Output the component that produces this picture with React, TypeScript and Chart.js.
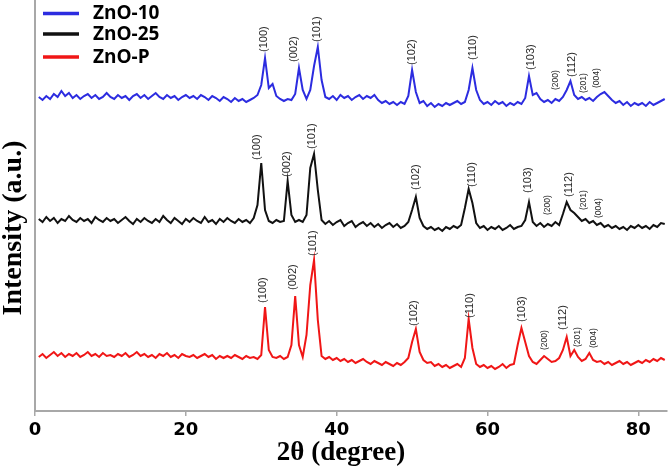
import React, { useEffect, useRef } from 'react';
import { Chart, registerables } from 'chart.js';

Chart.register(...registerables);

// 2θ sampling grid of the recorded patterns (degrees)
const TWO_THETA_START = 0.5;
const TWO_THETA_STEP = 0.5;
const X_TICKS = [0, 20, 40, 60, 80];
const X_MAX = 83.8;
const Y_MAX = 411;

// Intensities (a.u., curves offset vertically as in the figure)
const ZNO_10 = [
  314, 311, 315, 312, 317, 314, 320, 315, 318, 313,
  316, 312, 315, 317, 313, 316, 312, 314, 318, 314,
  312, 316, 313, 315, 311, 315, 317, 313, 316, 312,
  315, 318, 314, 312, 316, 313, 315, 311, 314, 316,
  313, 315, 312, 316, 314, 311, 315, 313, 310, 314,
  312, 309, 313, 310, 312, 309, 311, 313, 316, 326,
  353, 323, 327, 315, 312, 310, 312, 311, 317, 343,
  321, 312, 321, 345, 364, 331, 314, 312, 315, 311,
  316, 313, 315, 311, 314, 316, 312, 315, 313, 316,
  311, 308, 310, 307, 309, 306, 309, 307, 315, 341,
  319, 308, 310, 305, 308, 304, 307, 305, 308, 306,
  308, 310, 307, 309, 321, 343, 321, 311, 307, 309,
  306, 310, 307, 309, 305, 308, 306, 309, 307, 313,
  335, 316, 318, 312, 309, 311, 308, 312, 310, 314,
  321, 330, 316, 312, 314, 311, 313, 310, 314, 317,
  319, 315, 311, 308, 310, 306, 309, 305, 308, 306,
  308, 305, 309, 306, 308, 310, 312,
];

const ZNO_25 = [
  192, 189, 194, 190, 193, 188, 192, 190, 195, 191,
  189, 193, 190, 192, 188, 194, 191, 189, 193, 190,
  192, 188, 191, 194, 190, 187, 192, 189, 193, 190,
  188, 192, 189, 195, 191, 188, 193, 190, 187, 192,
  189, 193, 190, 188, 194, 189, 191, 187, 192, 189,
  193, 190, 188, 192, 189, 191, 188, 193, 206, 248,
  201, 190, 188, 191, 189, 190, 230, 196, 189, 191,
  189, 196, 243, 257, 221, 191, 187, 190, 186, 189,
  191, 185, 188, 190, 184, 187, 189, 185, 188, 184,
  187, 183, 186, 188, 184, 187, 183, 185, 189, 201,
  214, 193, 185, 182, 184, 181, 183, 180, 184, 182,
  185, 183, 186, 203, 222, 208, 188, 183, 185, 181,
  184, 182, 185, 181, 183, 186, 182, 184, 185, 191,
  209, 189, 185, 188, 184, 187, 185, 189, 186, 197,
  209, 201, 198, 194, 190, 192, 188, 190, 186, 188,
  184, 186, 183, 185, 182, 184, 181, 185, 183, 186,
  183, 185, 182, 186, 184, 188, 187,
];

const ZNO_P = [
  54, 57, 53, 56, 59, 55, 58, 54, 57, 55,
  58, 54, 56, 59, 55, 57, 54, 58, 55, 56,
  54, 57, 55, 58, 54, 56, 59, 55, 57, 54,
  56, 53, 57, 55, 58, 54, 56, 53, 57, 55,
  54, 56, 53, 55, 57, 54, 56, 52, 55, 53,
  55, 53, 56, 54, 52, 55, 53, 54, 52, 56,
  104, 61, 54, 53, 55, 52, 54, 66, 115, 66,
  54, 76, 126, 151, 91, 55, 52, 54, 51, 53,
  50, 52, 49, 51, 48, 50, 52, 49, 47, 50,
  48, 46, 49, 47, 45, 48, 46, 49, 53, 69,
  82, 59, 51, 48, 49, 45, 47, 44, 46, 43,
  45, 47, 44, 53, 92, 63, 47, 44, 46, 43,
  45, 42, 44, 47, 43, 46, 47, 66, 83, 69,
  55, 49, 47, 51, 55, 52, 49, 50, 53, 61,
  74, 55, 61, 54, 50, 52, 58, 51, 49, 50,
  47, 49, 46, 48, 50, 47, 49, 46, 48, 50,
  48, 51, 49, 52, 50, 53, 51,
];

const SERIES_NAMES = ['ZnO-10', 'ZnO-25', 'ZnO-P'];
const SERIES_COLORS = ['#2c2ce0', '#111111', '#f01616'];

// Miller-index annotations (text start position in data units)
const PEAK_HKL = ['(100)', '(002)', '(101)', '(102)', '(110)', '(103)', '(200)', '(112)', '(201)', '(004)'];
const PEAK_SMALL = [false, false, false, false, false, false, true, false, true, true];
const ZNO_10_LABEL_2THETA = [30.4, 34.4, 37.4, 50.0, 58.1, 65.8, 69.1, 71.2, 72.8, 74.5];
const ZNO_10_LABEL_Y = [359, 349, 369, 346, 351, 341, 321, 334, 318, 323];
const ZNO_25_LABEL_2THETA = [29.4, 33.4, 36.7, 50.5, 58.0, 65.3, 68.0, 70.8, 72.7, 74.8];
const ZNO_25_LABEL_Y = [251, 234, 262, 221, 224, 218, 196, 214, 201, 193];
const ZNO_P_LABEL_2THETA = [30.2, 34.2, 36.9, 50.3, 57.7, 64.6, 67.6, 70.0, 71.9, 74.1];
const ZNO_P_LABEL_Y = [108, 121, 155, 85, 93, 89, 61, 81, 64, 63];

const toPoints = (vals: number[]) =>
  vals.map((v, i) => ({ x: TWO_THETA_START + i * TWO_THETA_STEP, y: v }));

const overlayPlugin = {
  id: 'xrdOverlay',
  afterDatasetsDraw(chart: any) {
    const { ctx, chartArea, scales } = chart;
    const xs = scales.x;
    const ys = scales.y;
    ctx.save();

    // peak labels
    const labelSets = [
      [ZNO_10_LABEL_2THETA, ZNO_10_LABEL_Y],
      [ZNO_25_LABEL_2THETA, ZNO_25_LABEL_Y],
      [ZNO_P_LABEL_2THETA, ZNO_P_LABEL_Y],
    ];
    ctx.fillStyle = '#2a2a2a';
    ctx.textAlign = 'left';
    ctx.textBaseline = 'middle';
    labelSets.forEach(([thetas, ys2]) => {
      PEAK_HKL.forEach((hkl, k) => {
        const px = xs.getPixelForValue(thetas[k]);
        const py = ys.getPixelForValue(ys2[k]);
        ctx.save();
        ctx.translate(px, py);
        ctx.rotate(-Math.PI / 2);
        ctx.font = PEAK_SMALL[k] ? '8.5px "Liberation Sans"' : '11px "Liberation Sans"';
        ctx.fillText(hkl, 0, 0);
        ctx.restore();
      });
    });

    // legend
    const legendY = [13.5, 34, 57];
    SERIES_NAMES.forEach((name, i) => {
      ctx.strokeStyle = SERIES_COLORS[i];
      ctx.lineWidth = 3.5;
      ctx.beginPath();
      ctx.moveTo(43, legendY[i]);
      ctx.lineTo(79, legendY[i]);
      ctx.stroke();
      ctx.fillStyle = '#000000';
      ctx.font = 'bold 19px "Open Sans"';
      ctx.textAlign = 'left';
      ctx.textBaseline = 'middle';
      ctx.fillText(name, 93, legendY[i] + 0.5);
    });

    // axis titles
    ctx.fillStyle = '#000000';
    ctx.font = 'bold 27px "Liberation Serif"';
    ctx.textAlign = 'center';
    ctx.textBaseline = 'middle';
    ctx.fillText('2θ (degree)', (chartArea.left + chartArea.right) / 2 - 10, 453);
    ctx.save();
    ctx.font = 'bold 28px "Liberation Serif"';
    ctx.translate(14, 228);
    ctx.rotate(-Math.PI / 2);
    ctx.fillText('Intensity (a.u.)', 0, 0);
    ctx.restore();

    ctx.restore();
  },
};

export default function App() {
  const ref = useRef<HTMLCanvasElement | null>(null);

  useEffect(() => {
    if (!ref.current) return;
    const series = [ZNO_10, ZNO_25, ZNO_P];
    const chart = new Chart(ref.current, {
      type: 'line',
      data: {
        datasets: series.map((vals, i) => ({
          label: SERIES_NAMES[i],
          data: toPoints(vals),
          borderColor: SERIES_COLORS[i],
          borderWidth: 2,
          pointRadius: 0,
          tension: 0,
          fill: false,
        })),
      },
      options: {
        responsive: false,
        animation: false,
        layout: { padding: { left: 35, right: 2, top: 0, bottom: 0 } },
        plugins: {
          legend: { display: false },
          tooltip: { enabled: false },
          title: { display: false },
        },
        scales: {
          x: {
            type: 'linear',
            min: 0,
            max: X_MAX,
            afterBuildTicks: (scale: any) => {
              scale.ticks = X_TICKS.map((v) => ({ value: v }));
            },
            afterFit: (scale: any) => {
              scale.height = 57;
            },
            grid: {
              display: true,
              drawOnChartArea: false,
              drawTicks: true,
              tickLength: 5,
              color: '#a8a8a8',
              lineWidth: 1.5,
            },
            border: { display: true, color: '#a8a8a8', width: 2 },
            ticks: {
              padding: 4,
              maxRotation: 0,
              color: '#000000',
              font: { family: '"DejaVu Sans"', size: 18, weight: 'bold' },
            },
          },
          y: {
            type: 'linear',
            min: 0,
            max: Y_MAX,
            afterFit: (scale: any) => {
              scale.width = 0;
            },
            grid: { display: false, drawTicks: false },
            border: { display: true, color: '#a8a8a8', width: 2 },
            ticks: { display: false },
          },
        },
      },
      plugins: [overlayPlugin],
    });
    return () => chart.destroy();
  }, []);

  return (
    <div style={{ position: 'fixed', left: 0, top: 0, width: 669, height: 468, background: '#ffffff' }}>
      <canvas ref={ref} width={669} height={468} />
    </div>
  );
}
